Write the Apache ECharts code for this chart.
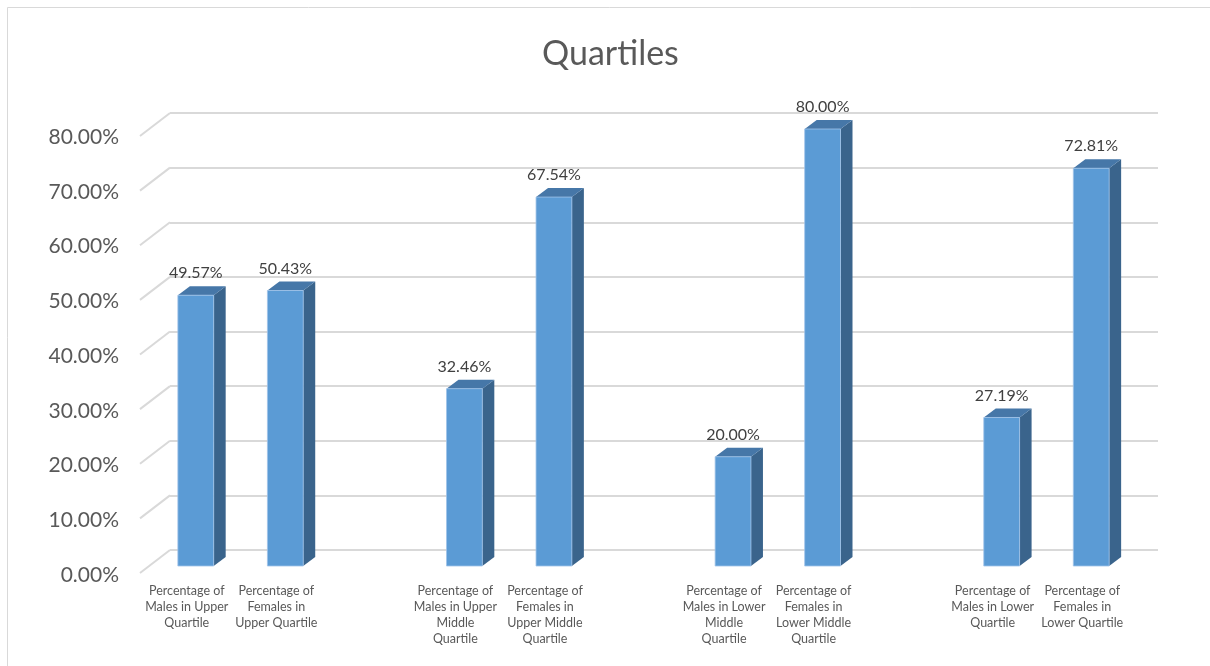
<!DOCTYPE html>
<html>
<head>
<meta charset="utf-8">
<script src="https://cdn.jsdelivr.net/npm/echarts@6/dist/echarts.min.js"></script>
<style>html,body{margin:0;padding:0;background:#fff}#c{width:1210px;height:666px}</style>
</head>
<body>
<div id="c"></div>
<script>
// ---- data ----
const categories = [
  'Percentage of\nMales in Upper\nQuartile',
  'Percentage of\nFemales in\nUpper Quartile',
  '',
  'Percentage of\nMales in Upper\nMiddle\nQuartile',
  'Percentage of\nFemales in\nUpper Middle\nQuartile',
  '',
  'Percentage of\nMales in Lower\nMiddle\nQuartile',
  'Percentage of\nFemales in\nLower Middle\nQuartile',
  '',
  'Percentage of\nMales in Lower\nQuartile',
  'Percentage of\nFemales in\nLower Quartile'
];
const values = [49.57, 50.43, null, 32.46, 67.54, null, 20.00, 80.00, null, 27.19, 72.81];
const tickValues = [0, 10, 20, 30, 40, 50, 60, 70, 80];

const FONT = 'Lato';
const DX = 12, DY = 9;        // bar depth
const WX = 30, WY = 23;       // wall depth

const chart = echarts.init(document.getElementById('c'));
chart.setOption({
  animation: false,
  backgroundColor: '#fff',
  title: {
    text: 'Quartiles', left: 537, top: 32,
    textStyle: { fontFamily: FONT, fontSize: 34, fontWeight: 'normal', color: '#595959' }
  },
  graphic: [{
    type: 'rect', silent: true,
    shape: { x: 7.5, y: 7.5, width: 1220, height: 680 },
    style: { fill: 'none', stroke: '#d9d9d9', lineWidth: 1 }
  }],
  grid: [
    { left: 151, right: 74, top: 129, bottom: 100 },   // bar front plane
    { left: 170, right: 52, top: 113, bottom: 116 },   // back wall
    { left: 143, right: 74, top: 137, bottom: 91 }     // front label plane
  ],
  xAxis: [
    { gridIndex: 0, type: 'category', data: categories,
      axisLine: { show: false }, axisTick: { show: false }, splitLine: { show: false },
      axisLabel: { interval: 0, margin: 17, fontFamily: FONT, fontSize: 12.5, lineHeight: 16, color: '#595959',
        align: 'center', padding: [0, 18, 0, 0] } },
    { gridIndex: 1, type: 'value', min: 0, max: 1, show: false },
    { gridIndex: 2, type: 'value', min: 0, max: 1, show: false }
  ],
  yAxis: [
    { gridIndex: 0, type: 'value', min: 0, max: 80, show: false },
    { gridIndex: 1, type: 'value', min: 0, max: 80, interval: 10,
      axisLine: { show: false }, axisTick: { show: false }, axisLabel: { show: false },
      splitLine: { show: true, lineStyle: { color: '#d9d9d9', width: 2 } } },
    { gridIndex: 2, type: 'value', min: 0, max: 80, interval: 10,
      axisLine: { show: false }, axisTick: { show: false }, splitLine: { show: false },
      axisLabel: { margin: 24, fontFamily: FONT, fontSize: 21, color: '#595959',
        formatter: v => v.toFixed(2) + '%' } }
  ],
  series: [
    {
      type: 'custom', xAxisIndex: 1, yAxisIndex: 1, z: 1, silent: true,
      data: tickValues.map(v => [0, v]),
      renderItem: function (params, api) {
        const p = api.coord([0, api.value(1)]);
        const x = params.coordSys.x;
        return { type: 'line', shape: { x1: x - WX, y1: p[1] + WY, x2: x, y2: p[1] },
          style: { stroke: '#d9d9d9', lineWidth: 2 } };
      }
    },
    {
      type: 'custom', xAxisIndex: 0, yAxisIndex: 0, z: 3, silent: true,
      data: values.map((v, i) => [i, v]),
      renderItem: function (params, api) {
        const v = api.value(1);
        if (v == null || isNaN(v)) return null;
        const t = api.coord([api.value(0), v]);
        const b = api.coord([api.value(0), 0]);
        const w = api.size([1, 0])[0] * 0.4;
        const x0 = t[0] - w / 2, x1 = t[0] + w / 2, top = t[1], bot = b[1];
        return { type: 'group', children: [
          { type: 'polygon', shape: { points: [[x1, top], [x1 + DX, top - DY], [x1 + DX, bot - DY], [x1, bot]] },
            style: { fill: '#3a648c' } },
          { type: 'polygon', shape: { points: [[x0, top], [x0 + DX, top - DY], [x1 + DX, top - DY], [x1, top]] },
            style: { fill: '#4677a8' } },
          { type: 'rect', shape: { x: x0, y: top, width: w, height: bot - top },
            style: { fill: '#5b9bd5', stroke: 'rgba(160,195,232,0.8)', lineWidth: 1 } },
          { type: 'text', style: { text: v.toFixed(2) + '%', x: t[0], y: top - DY - 5,
            align: 'center', verticalAlign: 'bottom', fontFamily: FONT, fontSize: 16, fill: '#404040' } }
        ] };
      }
    }
  ]
});
</script>
</body>
</html>
